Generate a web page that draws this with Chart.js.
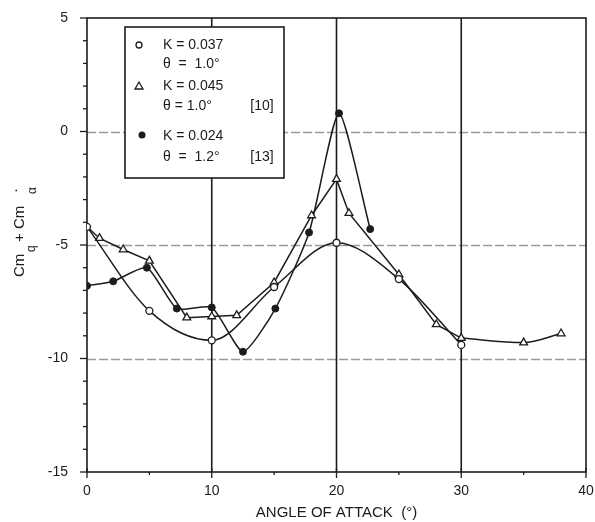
<!DOCTYPE html>
<html><head><meta charset="utf-8">
<script src="https://cdn.jsdelivr.net/npm/chart.js@4.4.1/dist/chart.umd.min.js"></script>
<style>html,body{margin:0;padding:0;background:#fff}canvas{display:block}</style>
</head><body>
<canvas id="c" width="595" height="522"></canvas>
<script>
// ---- data ----
const circleX = [0, 5, 10, 15, 20, 25, 30];
const circleY = [-4.2, -7.9, -9.2, -6.85, -4.9, -6.5, -9.4];

const triX = [0, 1, 2.9, 5, 8, 10, 12, 15, 18, 20, 21, 25, 28, 30, 35, 38];
const triY = [-4.2, -4.7, -5.2, -5.7, -8.2, -8.15, -8.1, -6.65, -3.7, -2.1, -3.6, -6.3, -8.5, -9.1, -9.3, -8.9];
const triTailStart = 13; // index of the 30° point, after which the line is curved

const dotX = [0, 2.1, 4.8, 7.2, 10, 12.5, 15.1, 17.8, 20.2, 22.7];
const dotY = [-6.8, -6.6, -6.0, -7.8, -7.75, -9.7, -7.8, -4.45, 0.8, -4.3];

const xTicks = [0, 10, 20, 30, 40];
const xMinorTicks = [5, 15, 25, 35];
const yTicks = [5, 0, -5, -10, -15];
const yDashedGrid = [0, -5, -10];
const xSolidGrid = [10, 20, 30];

const legendEntries = [
  {k: 'K = 0.037', t: 'θ  =  1.0°', ref: ''},
  {k: 'K = 0.045', t: 'θ = 1.0°', ref: '[10]'},
  {k: 'K = 0.024', t: 'θ  =  1.2°', ref: '[13]'}
];
const xTitle = 'ANGLE OF ATTACK  (°)';

const zip = (xs, ys) => xs.map((x, i) => ({x, y: ys[i]}));
const INK = '#1c1c1c';
const FONT = '"Liberation Sans", Arial, Helvetica, sans-serif';

const gridPlugin = {
  id: 'gridPlugin',
  beforeDatasetsDraw(chart) {
    const {ctx, chartArea: a, scales: {x, y}} = chart;
    ctx.save();
    ctx.strokeStyle = '#9a9a9a';
    ctx.lineWidth = 1.5;
    ctx.setLineDash([9, 3]);
    yDashedGrid.forEach(v => {
      const py = Math.round(y.getPixelForValue(v)) + 0.5;
      ctx.beginPath(); ctx.moveTo(a.left, py); ctx.lineTo(a.right, py); ctx.stroke();
    });
    ctx.setLineDash([]);
    ctx.strokeStyle = INK;
    ctx.lineWidth = 1.6;
    xSolidGrid.forEach(v => {
      const px = x.getPixelForValue(v);
      ctx.beginPath(); ctx.moveTo(px, a.top); ctx.lineTo(px, a.bottom); ctx.stroke();
    });
    ctx.lineWidth = 1.6;
    ctx.strokeRect(a.left, a.top, a.right - a.left, a.bottom - a.top);
    ctx.lineWidth = 1.3;
    for (let v = y.min; v <= y.max; v++) {
      const py = y.getPixelForValue(v);
      const len = (v % 5 === 0) ? 7 : 4;
      ctx.beginPath(); ctx.moveTo(a.left - len, py); ctx.lineTo(a.left, py); ctx.stroke();
    }
    xTicks.forEach(v => {
      const px = x.getPixelForValue(v);
      ctx.beginPath(); ctx.moveTo(px, a.bottom - 4); ctx.lineTo(px, a.bottom + 6); ctx.stroke();
    });
    xMinorTicks.forEach(v => {
      const px = x.getPixelForValue(v);
      ctx.beginPath(); ctx.moveTo(px, a.bottom); ctx.lineTo(px, a.bottom + 3); ctx.stroke();
    });
    ctx.restore();
  },
  afterDraw(chart) {
    const {ctx} = chart;
    ctx.save();
    const bx = 125, by = 27, bw = 159, bh = 151;
    ctx.fillStyle = '#fff';
    ctx.fillRect(bx, by, bw, bh);
    ctx.strokeStyle = INK;
    ctx.lineWidth = 1.6;
    ctx.strokeRect(bx, by, bw, bh);
    ctx.fillStyle = INK;
    ctx.font = '14px ' + FONT;
    ctx.textBaseline = 'middle';
    const rows = [[45, 64], [86, 106], [136, 157]];
    legendEntries.forEach((e, i) => {
      ctx.textAlign = 'left';
      ctx.fillText(e.k, 163, rows[i][0]);
      ctx.fillText(e.t, 163, rows[i][1]);
      if (e.ref) { ctx.textAlign = 'center'; ctx.fillText(e.ref, 262, rows[i][1]); }
    });
    ctx.lineWidth = 1.3;
    ctx.beginPath(); ctx.arc(139, 45, 3, 0, Math.PI * 2); ctx.fillStyle = '#fff'; ctx.fill(); ctx.stroke();
    ctx.beginPath(); ctx.moveTo(139, 82); ctx.lineTo(143, 89); ctx.lineTo(135, 89); ctx.closePath(); ctx.stroke();
    ctx.beginPath(); ctx.arc(142, 135, 3.5, 0, Math.PI * 2); ctx.fillStyle = INK; ctx.fill();

    // y axis title (rotated): Cm_q + Cm_α̇
    ctx.rotate(-Math.PI / 2);
    ctx.fillStyle = INK;
    ctx.textBaseline = 'alphabetic';
    ctx.textAlign = 'left';
    ctx.font = '15px ' + FONT;
    ctx.fillText('Cm', -277, 24);
    ctx.fillText('+', -242, 24);
    ctx.fillText('Cm', -229, 24);
    ctx.fillText('·', -193, 20);
    ctx.font = '12px ' + FONT;
    ctx.fillText('q', -252, 35);
    ctx.fillText('α', -194, 36);
    ctx.restore();
  }
};

new Chart(document.getElementById('c'), {
  type: 'scatter',
  data: {
    datasets: [
      {
        data: zip(circleX, circleY), showLine: true, borderColor: INK, borderWidth: 1.5,
        cubicInterpolationMode: 'monotone', pointStyle: 'circle', pointRadius: 3.5,
        pointBackgroundColor: '#fff', pointBorderColor: INK, pointBorderWidth: 1.3
      },
      {
        data: zip(triX, triY), showLine: true, borderColor: INK, borderWidth: 1.5, tension: 0,
        segment: {borderColor: c => c.p0DataIndex >= triTailStart ? 'rgba(0,0,0,0)' : undefined},
        pointStyle: 'triangle', pointRadius: c => c.dataIndex === 0 ? 0 : 4.5,
        pointBackgroundColor: '#fff', pointBorderColor: INK, pointBorderWidth: 1.3
      },
      {
        data: zip(triX.slice(triTailStart), triY.slice(triTailStart)), showLine: true,
        borderColor: INK, borderWidth: 1.5, cubicInterpolationMode: 'monotone', pointRadius: 0
      },
      {
        data: zip(dotX, dotY), showLine: true, borderColor: INK, borderWidth: 1.5, tension: 0.2,
        pointStyle: 'circle', pointRadius: 3.5, pointBackgroundColor: INK, pointBorderColor: INK, pointBorderWidth: 1
      }
    ]
  },
  options: {
    responsive: false,
    animation: false,
    layout: {padding: {top: 18, right: 9, left: 0, bottom: 0}},
    plugins: {legend: {display: false}, tooltip: {enabled: false}},
    scales: {
      x: {
        type: 'linear', min: 0, max: 40,
        afterBuildTicks: s => { s.ticks = xTicks.map(v => ({value: v})); },
        afterFit: s => { s.height = 50; s.paddingLeft = 0; s.paddingRight = 0; },
        grid: {display: false, drawTicks: false}, border: {display: false},
        ticks: {color: INK, padding: 11, maxRotation: 0, font: {family: FONT, size: 14}},
        title: {display: true, text: xTitle, color: INK, font: {family: FONT, size: 15}, padding: {top: 3, bottom: 0}}
      },
      y: {
        type: 'linear', min: -15, max: 5,
        afterBuildTicks: s => { s.ticks = yTicks.map(v => ({value: v})); },
        afterFit: s => { s.width = 87; s.paddingTop = 0; s.paddingBottom = 0; },
        grid: {display: false, drawTicks: false}, border: {display: false},
        ticks: {color: INK, padding: 19, font: {family: FONT, size: 14}}
      }
    }
  },
  plugins: [gridPlugin]
});
</script>
</body></html>
